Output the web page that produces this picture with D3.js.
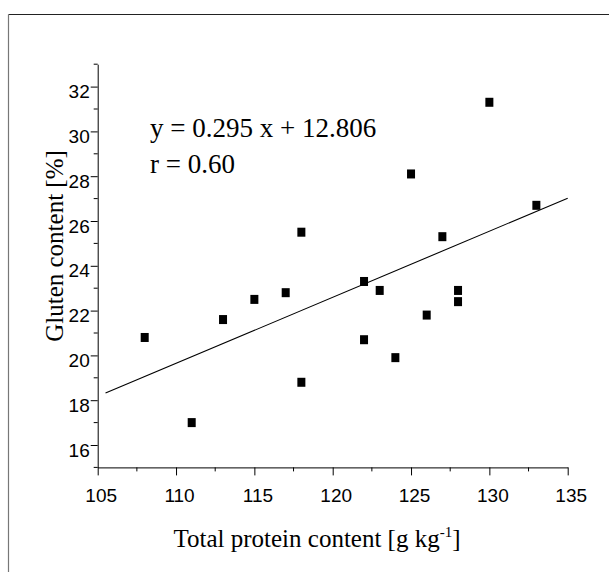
<!DOCTYPE html>
<html>
<head>
<meta charset="utf-8">
<script src="https://cdn.jsdelivr.net/npm/d3@7"></script>
<style>
  body { margin: 0; background: #fff; }
  svg { display: block; }
</style>
</head>
<body>
<svg width="609" height="572"></svg>
<script>
// protein [g/kg] vs gluten [%]
const protein = [108, 111, 113, 115, 117, 118, 118, 122, 122, 123, 124, 125, 126, 127, 128, 128, 130, 133];
const gluten  = [20.8, 17.0, 21.6, 22.5, 22.8, 25.5, 18.8, 23.3, 20.7, 22.9, 19.9, 28.1, 21.8, 25.3, 22.9, 22.4, 31.3, 26.7];
const xTicks = [105, 110, 115, 120, 125, 130, 135];
const yTicks = [16, 18, 20, 22, 24, 26, 28, 30, 32];
const fitSlope = 0.295;
const fitIntercept = -12.806;
const fitRange = [105.5, 135];
const eqLabel = "y = 0.295 x + 12.806";
const rLabel = "r = 0.60";

const svg = d3.select("svg");

// frame (only top and left visible)
svg.append("line").attr("x1", 8.5).attr("y1", 14.5).attr("x2", 609).attr("y2", 14.5)
  .attr("stroke", "#222").attr("stroke-width", 1.2);
svg.append("line").attr("x1", 8.5).attr("y1", 14.5).attr("x2", 8.5).attr("y2", 572)
  .attr("stroke", "#777").attr("stroke-width", 1.2);

const x = d3.scaleLinear().domain([105, 135]).range([97.7, 567.7]);
const y = d3.scaleLinear().domain([15, 33]).range([467.4, 64.2]);

// minor ticks
const xMinor = d3.range(107.5, 135, 5);
const yMinor = d3.range(15, 34, 2);

const gx = svg.append("g").attr("transform", `translate(0,${y(15)})`);
gx.call(d3.axisBottom(x).tickValues(xTicks).tickSize(8).tickPadding(13).tickSizeOuter(0).tickFormat(d3.format("d")));
gx.selectAll(".tick text").attr("dx", 3);
gx.selectAll(".minor").data(xMinor).join("line").attr("class", "minor")
  .attr("x1", d => x(d)).attr("x2", d => x(d)).attr("y1", 0).attr("y2", 4).attr("stroke", "#000");

const gy = svg.append("g").attr("transform", `translate(${x(105)},0)`);
gy.call(d3.axisLeft(y).tickValues(yTicks).tickSize(7).tickPadding(1).tickSizeOuter(0).tickFormat(d3.format("d")));
gy.selectAll(".tick text").attr("dy", "0.58em");
gy.selectAll(".minor").data(yMinor).join("line").attr("class", "minor")
  .attr("y1", d => y(d)).attr("y2", d => y(d)).attr("x1", 0).attr("x2", -4).attr("stroke", "#000");

svg.selectAll(".tick text").attr("font-family", "'Liberation Sans', Arial, sans-serif")
  .attr("font-size", 19).attr("fill", "#000");
svg.selectAll(".domain, .tick line").attr("stroke", "#000");

// regression line
svg.append("line")
  .attr("x1", x(fitRange[0])).attr("y1", y(fitSlope * fitRange[0] + fitIntercept))
  .attr("x2", x(fitRange[1])).attr("y2", y(fitSlope * fitRange[1] + fitIntercept))
  .attr("stroke", "#000").attr("stroke-width", 1.1);

// points
svg.append("g").selectAll("rect")
  .data(protein.map((p, i) => ({ p, g: gluten[i] })))
  .join("rect")
  .attr("x", d => x(d.p) - 4)
  .attr("y", d => y(d.g) - 4.5)
  .attr("width", 8)
  .attr("height", 9)
  .attr("fill", "#000");

const serif = "'Liberation Serif', 'Times New Roman', serif";

svg.append("text").attr("x", 150).attr("y", 137).attr("font-family", serif)
  .attr("font-size", 27).text(eqLabel);
svg.append("text").attr("x", 150).attr("y", 173).attr("font-family", serif)
  .attr("font-size", 27).text(rLabel);

// axis titles
const xt = svg.append("text").attr("x", 317).attr("y", 547).attr("text-anchor", "middle")
  .attr("font-family", serif).attr("font-size", 25);
xt.append("tspan").text("Total protein content [g kg");
xt.append("tspan").attr("font-size", 15).attr("dy", -10).text("-1");
xt.append("tspan").attr("dy", 10).text("]");

svg.append("text").attr("transform", "translate(63,246) rotate(-90)").attr("text-anchor", "middle")
  .attr("font-family", serif).attr("font-size", 25).text("Gluten content [%]");
</script>
</body>
</html>
